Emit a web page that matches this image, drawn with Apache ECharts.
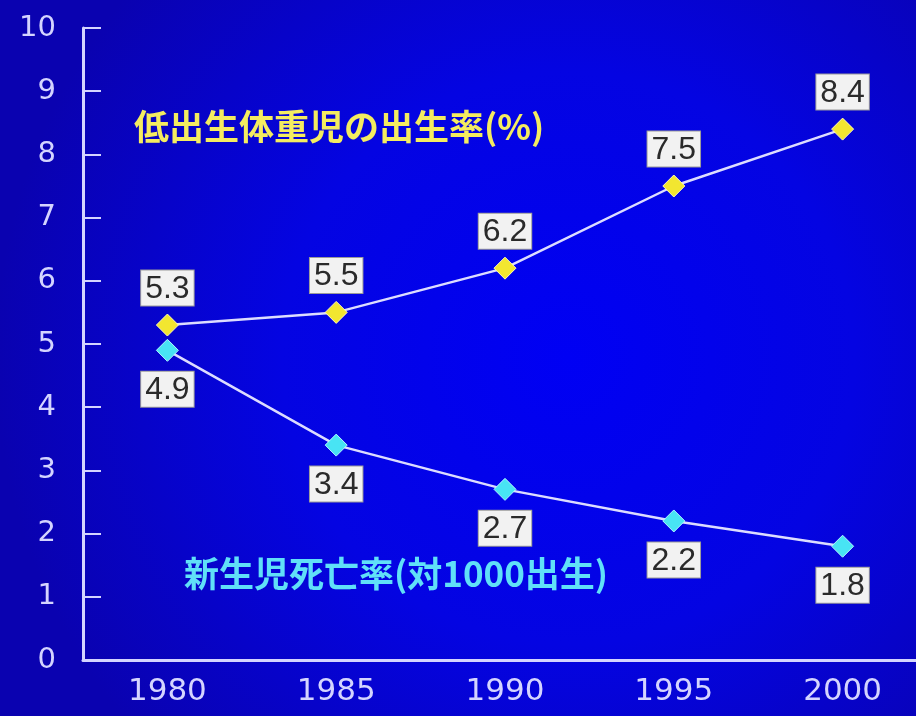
<!DOCTYPE html>
<html><head><meta charset="utf-8">
<script src="https://cdn.jsdelivr.net/npm/echarts@6/dist/echarts.min.js"></script>
<style>html,body{margin:0;padding:0;background:#0800b0}#c{width:916px;height:716px}</style>
</head><body><div id="c"></div>
<script>
const years = ['1980','1985','1990','1995','2000'];
const lowBirthWeight = [5.3, 5.5, 6.2, 7.5, 8.4];
const neonatalMortality = [4.9, 3.4, 2.7, 2.2, 1.8];
const yTicks = [0,1,2,3,4,5,6,7,8,9,10];
const lowBirthWeightTitle = '低出生体重児の出生率(%)';
const neonatalTitle = '新生児死亡率(対1000出生)';

const chart = echarts.init(document.getElementById('c'));
const axisColor = '#d4d4ff';
const labelBox = {
  show: true, fontSize: 32, color: '#2a2a2a', fontFamily: 'Liberation Sans, Arial, sans-serif',
  backgroundColor: '#f2f2f2', borderColor: '#9a9a9a', borderWidth: 1, padding: [2, 4, 0, 4], lineHeight: 33
};
chart.setOption({
  backgroundColor: {
    type: 'radial', x: 0.62, y: 0.5, r: 0.8,
    colorStops: [{offset: 0, color: '#0000f4'}, {offset: 0.5, color: '#0404e2'}, {offset: 1, color: '#0a02b0'}]
  },
  animation: false,
  grid: {left: 83, width: 844, top: 28, bottom: 56, containLabel: false, outerBoundsMode: 'none'},
  xAxis: {
    type: 'category', data: years, boundaryGap: true,
    axisLine: {lineStyle: {color: axisColor, width: 3}},
    axisTick: {inside: true, alignWithLabel: true, length: 18, lineStyle: {color: axisColor, width: 2}},
    axisLabel: {color: axisColor, fontSize: 31, fontFamily: 'DejaVu Sans, sans-serif', margin: 16}
  },
  yAxis: {
    type: 'value', min: 0, max: 10, interval: 1,
    splitLine: {show: false},
    axisLine: {show: true, lineStyle: {color: axisColor, width: 3}},
    axisTick: {show: true, inside: true, length: 18, lineStyle: {color: axisColor, width: 2}},
    axisLabel: {color: axisColor, fontSize: 29, fontFamily: 'DejaVu Sans, sans-serif', margin: 27,
      formatter: v => yTicks.includes(v) ? String(v) : ''}
  },
  series: [
    {
      type: 'line', data: lowBirthWeight, symbol: 'diamond', symbolSize: [22, 22],
      lineStyle: {color: '#dcdcff', width: 2.5},
      itemStyle: {color: '#f2e630', borderColor: '#fffbb0', borderWidth: 1},
      label: Object.assign({}, labelBox, {position: 'top', distance: 8})
    },
    {
      type: 'line', data: neonatalMortality, symbol: 'diamond', symbolSize: [22, 22],
      lineStyle: {color: '#dcdcff', width: 2.5},
      itemStyle: {color: '#48e4f4', borderColor: '#b0f8ff', borderWidth: 1},
      label: Object.assign({}, labelBox, {position: 'bottom', distance: 10})
    }
  ],
  graphic: [
    {type: 'text', left: 134, top: 109, style: {text: lowBirthWeightTitle, fill: '#f4ec60', fontSize: 35, fontWeight: 'bold', fontFamily: 'Noto Sans CJK JP, sans-serif'}},
    {type: 'text', left: 184, top: 556, style: {text: neonatalTitle, fill: '#60e0f8', fontSize: 35, fontWeight: 'bold', fontFamily: 'Noto Sans CJK JP, sans-serif'}}
  ]
});
</script></body></html>
